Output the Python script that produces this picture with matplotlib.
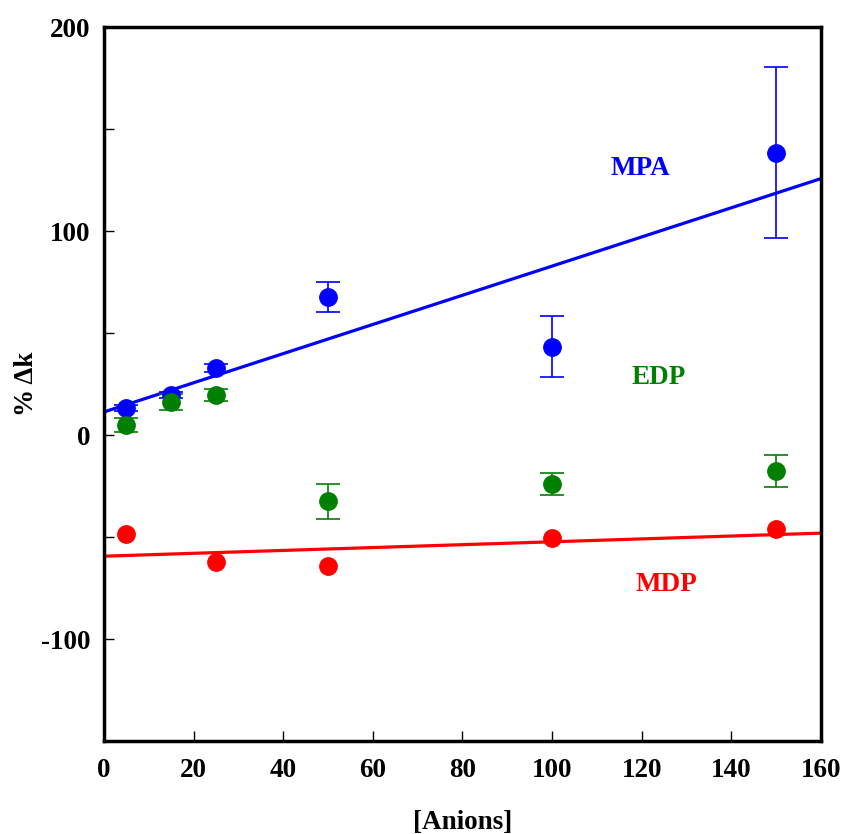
import matplotlib
matplotlib.use("Agg")
import matplotlib.pyplot as plt
import numpy as np
from matplotlib.ticker import FuncFormatter, MultipleLocator

plt.rcParams['font.family'] = ['Liberation Serif', 'DejaVu Serif']
plt.rcParams['font.weight'] = 'bold'

# Anion concentrations and % change in k for each compound
mpa_x = [5, 15, 25, 50, 100, 150]
mpa_y = [13.3, 19.6, 32.9, 67.7, 43.2, 138.4]
mpa_err = [1.5, 1.5, 2, 7.5, 15, 42]

edp_x = [5, 15, 25, 50, 100, 150]
edp_y = [4.9, 16.2, 19.6, -32.4, -24.0, -17.7]
edp_err = [3.5, 4, 3, 8.6, 5.5, 7.8]

mdp_x = [5, 25, 50, 100, 150]
mdp_y = [-48.6, -62.3, -64.3, -50.6, -46.1]

# Linear fits (intercept, slope)
mpa_fit = (11.3, 0.715)
mdp_fit = (-59.4, 0.0706)

fig = plt.figure(figsize=(8.45, 8.34), dpi=100)
ax = fig.add_axes([0.123, 0.1115, 0.8486, 0.8561])

xs = np.array([0, 160])
ax.plot(xs, mpa_fit[0] + mpa_fit[1] * xs, color='#0000FF', lw=2.3, zorder=2)
ax.plot(xs, mdp_fit[0] + mdp_fit[1] * xs, color='#FF0000', lw=2.3, zorder=2)

eb = dict(fmt='o', ms=12.5, elinewidth=1.2, capsize=8.5, capthick=1.2, zorder=3)
ax.errorbar(mpa_x, mpa_y, yerr=mpa_err, color='#0000FF', **eb)
ax.errorbar(edp_x, edp_y, yerr=edp_err, color='#008000', **eb)
ax.plot(mdp_x, mdp_y, 'o', ms=12.5, color='#FF0000', zorder=3)

lbl = dict(fontsize=19.5, fontweight='bold', ha='center', va='center')
ax.text(119.8, 130.6, 'MPA', color='#0000FF', **lbl)
ax.text(123.7, 28, 'EDP', color='#008000', **lbl)
ax.text(125.4, -73.2, 'MDP', color='#FF0000', **lbl)

ax.set_xlim(0, 160)
ax.set_ylim(-150, 200)
ax.xaxis.set_major_locator(MultipleLocator(20))
ax.yaxis.set_major_locator(MultipleLocator(50))
ax.yaxis.set_major_formatter(FuncFormatter(
    lambda v, p: f"{int(round(v))}" if abs(v) % 100 < 1e-6 and v > -150 else ""))
ax.tick_params(direction='in', length=7, width=1, labelsize=19.5)
ax.tick_params(axis='x', pad=12)
ax.tick_params(axis='y', pad=10)
for lab in ax.get_xticklabels() + ax.get_yticklabels():
    lab.set_fontweight('bold')
for s in ax.spines.values():
    s.set_linewidth(2.5)

ax.set_xlabel('[Anions]', fontsize=19.5, fontweight='bold', labelpad=20)
ax.set_ylabel('% Δk', fontsize=19.5, fontweight='bold', labelpad=1)

fig.savefig('out.png', dpi=100)
